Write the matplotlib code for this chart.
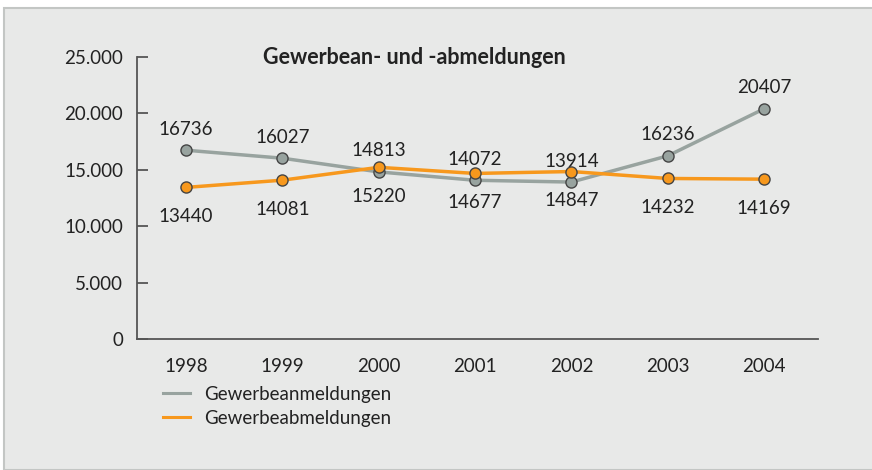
import matplotlib
matplotlib.use("Agg")
import matplotlib.pyplot as plt
from matplotlib.patches import Rectangle
from matplotlib.lines import Line2D

years = [1998, 1999, 2000, 2001, 2002, 2003, 2004]
anmeldungen = [16736, 16027, 14813, 14072, 13914, 16236, 20407]
abmeldungen = [13440, 14081, 15220, 14677, 14847, 14232, 14169]
yticks = [0, 5000, 10000, 15000, 20000, 25000]
ytick_labels = ["0", "5.000", "10.000", "15.000", "20.000", "25.000"]
title = "Gewerbean- und -abmeldungen"
series_names = ["Gewerbeanmeldungen", "Gewerbeabmeldungen"]

plt.rcParams['font.family'] = ['Lato', 'DejaVu Sans']

BG = "#e8e9e8"
GRAY = "#98a39f"
ORANGE = "#f7981d"
TXT = "#222222"
SPINE = "#555555"

fig = plt.figure(figsize=(8.72, 4.70), dpi=100)
fig.patch.set_facecolor("white")
W, H = 872, 470
# panel background with border
fig.patches.append(Rectangle((4 / W, 0), 1, 1 - 8 / H, transform=fig.transFigure,
                             facecolor=BG, edgecolor="#c3c6c4", linewidth=1.5, zorder=-10))

ax = fig.add_axes([137 / W, 1 - 339 / H, (818 - 137) / W, (339 - 57) / H])
ax.set_facecolor("none")
ax.set_zorder(5)
ax.set_xlim(1997.49, 2004.56)
ax.set_ylim(0, 25000)

for s in ["top", "right"]:
    ax.spines[s].set_visible(False)
for s in ["left", "bottom"]:
    ax.spines[s].set_color(SPINE)
    ax.spines[s].set_linewidth(1.3)

ax.set_yticks(yticks)
ax.set_yticklabels(ytick_labels)
ax.tick_params(axis="y", direction="in", length=8, width=1.3, color=SPINE,
               labelsize=13.5, labelcolor=TXT, pad=10)
ax.set_xticks(years)
ax.set_xticklabels([str(y) for y in years])
ax.tick_params(axis="x", length=0, labelsize=13.5, labelcolor=TXT, pad=14)

ax.plot(years, anmeldungen, color=GRAY, lw=2.5, marker="o", ms=8,
        mfc=GRAY, mec="#444444", mew=1, zorder=3, clip_on=False)
ax.plot(years, abmeldungen, color=ORANGE, lw=2.5, marker="o", ms=8,
        mfc=ORANGE, mec="#444444", mew=1, zorder=4, clip_on=False)

for x, v in zip(years, anmeldungen):
    ax.annotate(str(v), (x, v), xytext=(0, 9), textcoords="offset points",
                ha="center", va="bottom", fontsize=13.5, color=TXT)
for x, v in zip(years, abmeldungen):
    ax.annotate(str(v), (x, v), xytext=(0, -15), textcoords="offset points",
                ha="center", va="top", fontsize=13.5, color=TXT)

fig.text(414 / W, 1 - 57 / H, title, ha="center", va="center",
         fontsize=15.5, fontweight="bold", color=TXT)

handles = [Line2D([], [], color=GRAY, lw=2.2), Line2D([], [], color=ORANGE, lw=2.2)]
leg = fig.legend(handles, series_names, loc="upper left",
                 bbox_to_anchor=(163 / W, 1 - 386 / H), frameon=False,
                 fontsize=13.5, handlelength=1.45, handletextpad=0.75,
                 labelspacing=0.35, borderaxespad=0, borderpad=0)
for t in leg.get_texts():
    t.set_color(TXT)

fig.savefig("out.png", dpi=100, facecolor=fig.get_facecolor())
